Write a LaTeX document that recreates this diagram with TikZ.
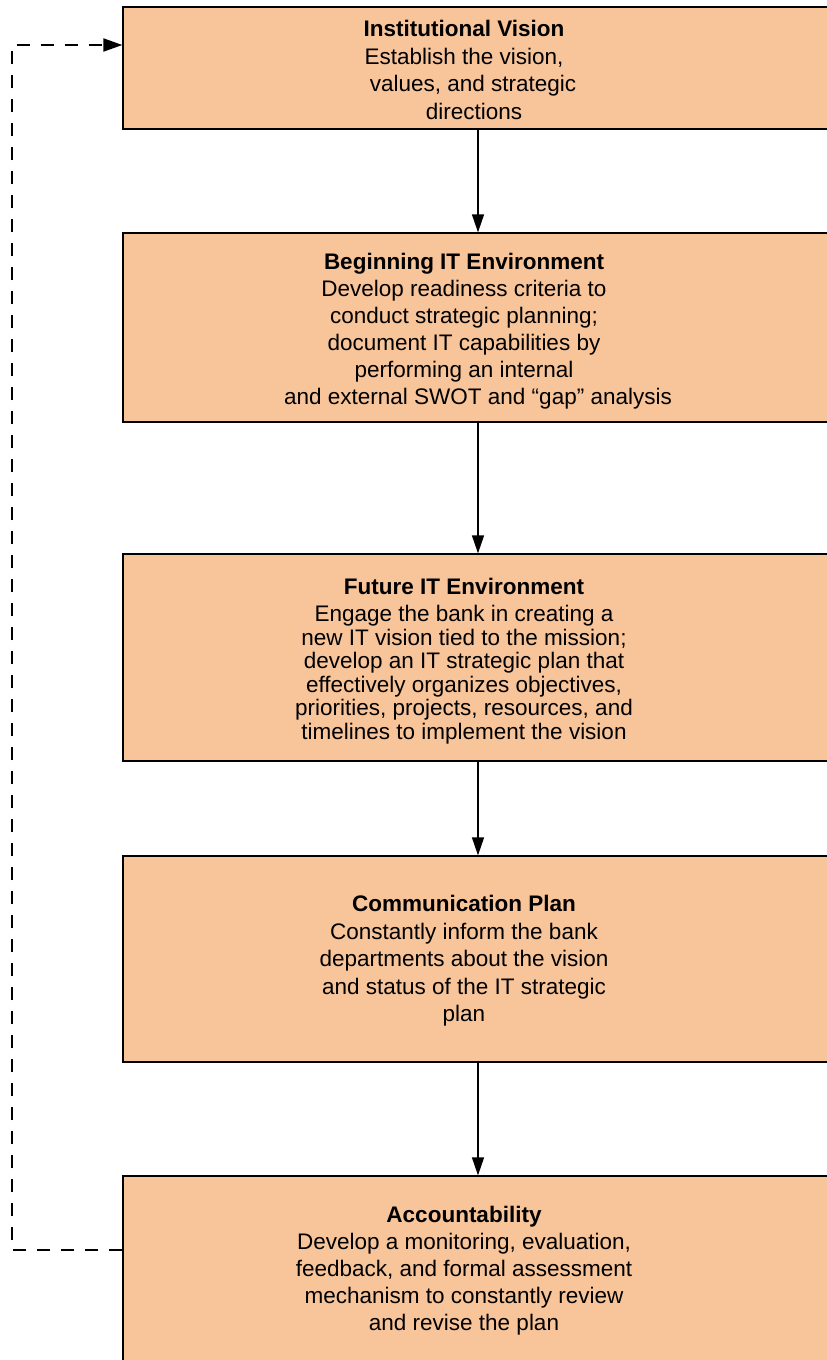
\documentclass[tikz,border=0pt]{standalone}
\usepackage{fontspec}
\setmainfont{Liberation Sans}
\usetikzlibrary{arrows.meta}

\definecolor{boxfill}{RGB}{248,196,154}

\begin{document}
\begin{tikzpicture}[x=1pt,y=-1pt,
  stagebox/.style={draw,line width=1.3pt,fill=boxfill,minimum width=710pt,inner sep=0pt},
  stagetext/.style={anchor=north,inner sep=0pt,align=center,font=\fontsize{22.5}{27.5}\selectfont},
  flow/.style={-{Triangle[length=18pt,width=12pt]},line width=1.3pt},
  feedback/.style={-{Triangle[length=19pt,width=13pt]},line width=2pt,dash pattern=on 13pt off 11pt}]
\useasboundingbox (0,0) rectangle (827,1360);

%Stage 1
\node[stagebox,minimum height=122pt] (vision) at (478,68) {};
\node[stagetext] (visiontxt) at (464,20) {\textbf{Institutional Vision}\\ Establish the vision,\\ \hspace*{18pt}values, and strategic\\ \hspace*{20pt}directions};

%Stage 2
\node[stagebox,minimum height=189pt] (begin) at (478,327.5) {};
\node[stagetext,font=\fontsize{22.5}{27}\selectfont] (begintxt) at (464,253) {\textbf{Beginning IT Environment}\\ Develop readiness criteria to\\ conduct strategic planning;\\ document IT capabilities by\\ performing an internal\\ \hspace*{28pt}and external SWOT and ``gap'' analysis};

%Stage 3
\node[stagebox,minimum height=207pt] (future) at (478,657.5) {};
\node[stagetext,font=\fontsize{22.5}{23.5}\selectfont] (futuretxt) at (464,578) {\textbf{Future IT Environment}\\[3.5pt] Engage the bank in creating a\\ new IT vision tied to the mission;\\ develop an IT strategic plan that\\ effectively organizes objectives,\\ priorities, projects, resources, and\\ timelines to implement the vision};

%Stage 4
\node[stagebox,minimum height=206pt] (comm) at (478,959) {};
\node[stagetext] (commtxt) at (464,895) {\textbf{Communication Plan}\\ Constantly inform the bank\\ departments about the vision\\ and status of the IT strategic\\ plan};

%Stage 5
\node[stagebox,minimum height=200pt] (account) at (478,1276) {};
\node[stagetext,font=\fontsize{22.5}{27}\selectfont] (accounttxt) at (464,1206) {\textbf{Accountability}\\ Develop a monitoring, evaluation,\\ feedback, and formal assessment\\ mechanism to constantly review\\ and revise the plan};

\draw[flow] (vision) -- (begin);
\draw[flow] (begin) -- (future);
\draw[flow] (future) -- (comm);
\draw[flow] (comm) -- (account);

%Feedback loop
\coordinate (looptop) at (12,45);
\coordinate (loopbot) at (12,1250);
\draw[feedback] (account.west |- loopbot) -- (loopbot) -- (looptop) -- (vision.west |- looptop);
\end{tikzpicture}
\end{document}
